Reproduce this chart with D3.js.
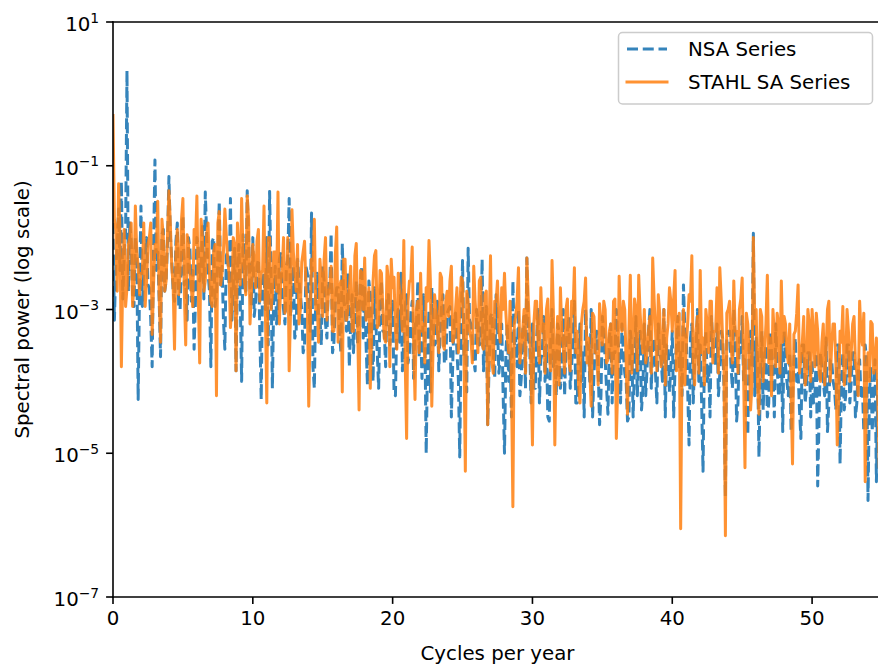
<!DOCTYPE html>
<html>
<head>
<meta charset="utf-8">
<script src="https://cdn.jsdelivr.net/npm/d3@7"></script>
<style>
  body { margin: 0; background: #fff; }
  svg { display: block; }
  text { font-family: "DejaVu Sans", sans-serif; fill: #000; }
</style>
</head>
<body>
<svg id="chart" width="878" height="669"></svg>
<script>
// Periodogram bins: evenly spaced frequencies in cycles per year
const freqStep = 0.1;

// Spectral power of the not seasonally adjusted series, one value per bin
const nsaPower = [
  // 0.0 – 1.9
  1.6e-2, 7.1e-4, 4e-3, 7.1e-3, 2.5e-2, 3.5e-3, 6e-2, 1.4e-3, 6.3e-3, 1.1e-2, 2.1, 1.8e-3, 1.6e-2, 8.9e-3, 1.6e-3, 1.1e-3, 1e-2, 5.6e-3, 5.6e-5, 2.2e-3,
  // 2.0 – 3.9
  2.75e-2, 1.1e-3, 3.2e-3, 5.6e-3, 1e-2, 2.2e-3, 2e-3, 7.1e-4, 1.6e-4, 7.1e-3, 1.2e-1, 3.5e-3, 6.3e-3, 1.4e-3, 2.2e-4, 1.1e-2, 1.3e-2, 1.8e-3, 2.5e-3, 8.9e-3,
  // 4.0 – 5.9
  7.1e-2, 1.1e-2, 5e-3, 1.8e-3, 1.3e-3, 8.9e-3, 1.6e-2, 1.1e-3, 1e-3, 5.6e-3, 2e-2, 2.2e-3, 2.5e-3, 7.1e-4, 1e-2, 7.1e-3, 1.3e-3, 3.5e-3, 2.8e-4, 1.4e-3,
  // 6.0 – 7.9
  1e-2, 7.1e-3, 2.5e-3, 3.5e-3, 1.6e-2, 1.4e-3, 4.3e-2, 1.1e-2, 3.2e-3, 1.8e-3, 1.6e-4, 8.9e-3, 1e-2, 1.1e-3, 1.6e-3, 5.6e-3, 3.2e-2, 2.2e-3, 4e-3, 7.1e-4,
  // 8.0 – 9.9
  2.8e-4, 5.6e-3, 6.3e-3, 2.2e-3, 3.5e-2, 7.1e-4, 2e-3, 7.1e-3, 1.4e-4, 3.5e-3, 8e-3, 1.4e-3, 1e-4, 1.1e-2, 5e-3, 1.8e-3, 4.5e-2, 8.9e-3, 2e-3, 1.1e-3,
  // 10.0 – 11.9
  1e-2, 8e-4, 1.3e-3, 4e-3, 5e-3, 5e-4, 5.6e-5, 2.5e-3, 3.2e-3, 1e-3, 1e-2, 3.2e-4, 4.4e-2, 3.2e-3, 8e-5, 1.6e-3, 4e-3, 6.3e-4, 1.3e-3, 5e-3,
  // 12.0 – 13.9
  6.3e-3, 1.6e-3, 1e-3, 6.3e-4, 4e-3, 5e-3, 3.5e-2, 8e-4, 1.6e-3, 4e-3, 4e-4, 5e-4, 5e-3, 2.5e-3, 1.6e-3, 1e-3, 2.5e-4, 3.2e-4, 4e-3, 3.2e-3,
  // 14.0 – 15.9
  1.3e-3, 5e-4, 2.2e-2, 1.6e-4, 8e-5, 1.6e-3, 3.2e-3, 8e-4, 8e-4, 3.2e-4, 4e-3, 2.5e-3, 6.3e-4, 4e-4, 2.5e-3, 2e-3, 1.15e-2, 2.5e-4, 3.5e-4, 1.3e-3,
  // 16.0 – 17.9
  2e-3, 2e-3, 5e-4, 2.5e-4, 8.3e-3, 1.3e-3, 1e-3, 5e-4, 3.2e-3, 1.6e-4, 6.3e-4, 1.6e-3, 2.5e-4, 8e-4, 2.5e-3, 3.2e-4, 1e-3, 2.5e-3, 4e-3, 4e-4,
  // 18.0 – 19.9
  2e-3, 3.2e-4, 8.9e-5, 2.5e-3, 1.6e-3, 4e-4, 1e-4, 2e-3, 6.3e-4, 2.5e-4, 8e-5, 1.3e-3, 2.5e-3, 5e-4, 5e-4, 1.6e-4, 1.6e-3, 1.6e-3, 3.2e-4, 8e-4,
  // 20.0 – 21.9
  1.3e-3, 7.1e-5, 6.3e-5, 7.1e-4, 1e-3, 3.5e-4, 3.2e-3, 1.4e-4, 4e-4, 1.1e-3, 1.6e-3, 1.8e-4, 2.5e-4, 8.9e-4, 1.3e-3, 1.1e-4, 6.3e-4, 5.6e-4, 2.5e-3, 2.2e-4,
  // 22.0 – 23.9
  5e-4, 1.1e-4, 1.6e-3, 5.6e-4, 1e-5, 2.2e-4, 1e-3, 7.1e-5, 2e-3, 7.1e-4, 3.2e-4, 3.5e-4, 1.3e-3, 1.4e-4, 5e-4, 1.1e-3, 1.6e-3, 1.8e-4, 1.8e-4, 8.9e-4,
  // 24.0 – 25.9
  1e-3, 1.1e-3, 3.2e-5, 1.8e-4, 8e-4, 8.9e-4, 2.5e-4, 1.1e-4, 8.9e-6, 5.6e-4, 4.8e-3, 2.2e-4, 4e-4, 7.1e-5, 7.1e-3, 7.1e-4, 6.3e-4, 3.5e-4, 2e-4, 1.4e-4,
  // 26.0 – 27.9
  1e-3, 7.1e-4, 3.2e-4, 3.5e-4, 5e-3, 1.4e-4, 5e-4, 1.1e-3, 2.5e-5, 1.8e-4, 8e-4, 8.9e-4, 2.5e-4, 1.1e-4, 1.6e-3, 5.6e-4, 1.3e-4, 2.2e-4, 6.3e-4, 7.1e-5,
  // 28.0 – 29.9
  1e-5, 2.5e-4, 6.3e-4, 1e-4, 2.5e-4, 3.2e-5, 2.5e-3, 3.2e-4, 4e-4, 1.6e-4, 1e-3, 6.3e-5, 1.1e-4, 5e-4, 8e-4, 8e-5, 5.2e-3, 4e-4, 3.2e-4, 5e-5,
  // 30.0 – 31.9
  6.3e-4, 8e-5, 8e-5, 4e-4, 1e-3, 5e-5, 2e-4, 2.5e-4, 8e-4, 1e-4, 3.2e-4, 3.2e-5, 2.8e-5, 3.2e-4, 1e-3, 1.6e-4, 2.5e-4, 6.3e-5, 6.3e-4, 5e-4,
  // 32.0 – 33.9
  8e-5, 1.6e-4, 1e-3, 6.3e-5, 3.2e-4, 5e-4, 8e-4, 8e-5, 1.6e-4, 4e-4, 1.3e-3, 5e-5, 5e-5, 2.5e-4, 6.3e-4, 1e-4, 2.5e-4, 3.2e-5, 1e-3, 3.2e-4,
  // 34.0 – 35.9
  3.2e-4, 1e-4, 1e-3, 3.2e-5, 1.3e-4, 3.2e-4, 5e-4, 1.6e-4, 2.5e-5, 6.3e-5, 8e-4, 5e-4, 2e-4, 8e-5, 3.5e-5, 4e-4, 6.3e-4, 5e-5, 2.5e-4, 2.5e-4,
  // 36.0 – 37.9
  1e-3, 4e-4, 2.5e-4, 5e-5, 6.3e-4, 2.5e-4, 1.3e-4, 1e-4, 2.8e-5, 3.2e-5, 5e-4, 3.2e-4, 3.2e-5, 1.6e-4, 8e-4, 6.3e-5, 3.2e-4, 5e-4, 4e-5, 8e-5,
  // 38.0 – 39.9
  6.3e-4, 6.3e-5, 1.6e-4, 5e-4, 1e-3, 8e-5, 3.2e-4, 4e-4, 1.3e-4, 5e-5, 6.3e-4, 2.5e-4, 2e-4, 1e-4, 1e-3, 3.2e-5, 3.2e-4, 3.2e-4, 7.1e-5, 1.6e-4,
  // 40.0 – 41.9
  5e-4, 3.2e-5, 1.6e-4, 3.2e-4, 8e-4, 1.6e-4, 2.5e-4, 6.3e-5, 2.2e-3, 5e-4, 4e-4, 8e-5, 1.3e-5, 4e-4, 6.3e-4, 5e-5, 2e-4, 2.5e-4, 1e-3, 1e-4,
  // 42.0 – 43.9
  3.2e-4, 5e-5, 5.6e-6, 2.5e-4, 5e-4, 1e-4, 1.6e-4, 3.2e-5, 8e-4, 3.2e-4, 2.5e-4, 1.6e-4, 6.3e-4, 6.3e-5, 1.3e-4, 5e-4, 4e-4, 8e-5, 2.5e-6, 4e-4,
  // 44.0 – 45.9
  5e-4, 5e-4, 1.6e-4, 8e-5, 1e-3, 4e-4, 2.8e-5, 5e-5, 4e-4, 2.5e-4, 8e-4, 1e-4, 2e-4, 3.2e-5, 1.8e-5, 3.2e-4, 5e-4, 1.6e-4, 1.15e-2, 6.3e-5,
  // 46.0 – 47.9
  4e-4, 2e-4, 8.9e-6, 1e-4, 5e-4, 4e-5, 1.6e-4, 3.2e-4, 3.2e-5, 5e-5, 5e-4, 2.5e-4, 1.3e-4, 3.2e-5, 6.3e-4, 1.6e-4, 6.3e-5, 6.3e-5, 3.2e-4, 2e-5,
  // 48.0 – 49.9
  5e-4, 1.6e-4, 1e-4, 6.3e-5, 2.5e-4, 2e-5, 5e-5, 2e-4, 4e-4, 1e-4, 1.3e-4, 4e-5, 1.6e-5, 3.2e-4, 3.2e-4, 5e-5, 8e-5, 2.5e-4, 2.5e-4, 3.2e-5,
  // 50.0 – 51.9
  2e-4, 5e-5, 6.3e-5, 2.5e-4, 3.5e-6, 3.2e-5, 2.5e-4, 1.6e-4, 1e-4, 6.3e-5, 4e-4, 2e-5, 5e-5, 2e-4, 2e-4, 1e-4, 8e-5, 4e-5, 3.2e-4, 3.2e-4,
  // 52.0 – 53.9
  7.1e-6, 1e-4, 2.5e-4, 4e-5, 6.3e-5, 3.2e-4, 3.2e-4, 5e-5, 1e-4, 2.5e-4, 2.5e-4, 3.2e-5, 5e-5, 1.6e-4, 2e-4, 6.3e-5, 8e-5, 2e-5, 3.2e-4, 2e-4,
  // 54.0 – 55.0
  2.2e-6, 6.3e-5, 1.6e-4, 2e-5, 6.3e-5, 2e-4, 4e-6, 1e-4, 1.3e-4, 4e-5, 5e-5
];

// Spectral power of the STAHL seasonally adjusted series
const stahlPower = [
  // 0.0 – 1.9
  5e-1, 1.8e-2, 1.3e-2, 1.8e-3, 5.6e-2, 1.1e-2, 1.6e-4, 3.2e-3, 1.3e-2, 1.1e-3, 2e-3, 8e-3, 1e-2, 1.6e-2, 1.1e-3, 2.2e-3, 2.75e-2, 6.3e-3, 4e-3, 1.6e-3,
  // 2.0 – 3.9
  3.2e-3, 3.2e-3, 1.6e-2, 1.1e-3, 2.5e-3, 8e-3, 1e-2, 1.6e-2, 4.5e-4, 2.2e-3, 8e-3, 6.3e-3, 3.2e-2, 1.6e-3, 3.5e-4, 1.8e-2, 1e-2, 1.8e-3, 2.5e-3, 1.1e-2,
  // 4.0 – 5.9
  4.5e-2, 1.6e-2, 4e-3, 2.2e-3, 2.8e-4, 6.3e-3, 1.3e-2, 1.6e-3, 3.2e-3, 1.8e-2, 3.5e-2, 1.8e-3, 3.2e-4, 1.1e-2, 8e-3, 3.2e-3, 2e-3, 1.1e-3, 1.3e-2, 8e-3,
  // 6.0 – 7.9
  3.8e-2, 1.6e-3, 1.8e-4, 1.8e-2, 1e-2, 1.8e-3, 2.5e-3, 1.1e-2, 1.6e-2, 3.2e-3, 1.3e-3, 1.1e-3, 6.3e-3, 8e-3, 6.3e-5, 1.6e-2, 2.3e-2, 2.2e-3, 3.2e-3, 6.3e-3,
  // 8.0 – 9.9
  2.5e-2, 1.1e-2, 5e-3, 3.2e-3, 5.6e-4, 1.1e-3, 1e-2, 8e-3, 1.4e-4, 1.6e-2, 6.3e-3, 2.2e-3, 3.5e-2, 6.3e-3, 2.5e-3, 1.6e-3, 3.8e-2, 1.8e-2, 6.3e-4, 1.8e-3,
  // 10.0 – 11.9
  8e-3, 4.5e-3, 2e-3, 8.9e-3, 1.3e-2, 1.3e-3, 3.2e-3, 3.5e-3, 2.75e-2, 8.9e-4, 5e-5, 1e-2, 1e-2, 1e-3, 1.6e-3, 6.3e-3, 6.3e-3, 1.8e-3, 4.3e-2, 6.3e-4,
  // 12.0 – 13.9
  2.5e-3, 3.5e-3, 1e-2, 8.9e-4, 1.3e-3, 1e-2, 1.4e-4, 1e-3, 2.45e-2, 6.3e-3, 3.2e-3, 1.8e-3, 8e-3, 6.3e-4, 1e-3, 4.5e-3, 6.3e-3, 8.9e-3, 2e-3, 1.3e-3,
  // 14.0 – 15.9
  4.5e-5, 5.6e-4, 5e-3, 3.5e-3, 1.8e-2, 1e-3, 1.3e-3, 3.5e-4, 5e-3, 2.5e-3, 8e-4, 5e-3, 1e-2, 7.1e-4, 1.6e-3, 2e-3, 4e-3, 5e-4, 5e-4, 5.6e-3,
  // 16.0 – 17.9
  1.4e-2, 3.5e-4, 2e-3, 2.5e-3, 7.1e-5, 5e-3, 5e-3, 7.1e-4, 1e-3, 2e-3, 4e-3, 5e-4, 5e-4, 5.6e-3, 8.3e-3, 5.6e-4, 4e-5, 3.5e-3, 3.2e-3, 1e-3,
  // 18.0 – 19.9
  5.2e-3, 7.1e-4, 1e-3, 2e-3, 8e-5, 5e-4, 2.5e-3, 5.6e-3, 6.6e-3, 5.6e-4, 6.3e-4, 3.5e-3, 3.2e-3, 1e-3, 4e-4, 3.5e-4, 4e-3, 2.5e-3, 1.6e-4, 5e-3,
  // 20.0 – 21.9
  2e-3, 2.8e-3, 5e-4, 2.8e-4, 3.2e-3, 1.8e-3, 1e-3, 5e-4, 9.1e-3, 1.8e-4, 1.6e-5, 1.3e-3, 2.5e-3, 2.5e-3, 7.4e-3, 3.5e-4, 5.6e-5, 1e-3, 1.3e-3, 2.5e-4,
  // 22.0 – 23.9
  3.2e-3, 5e-4, 6.3e-4, 1.8e-4, 2e-3, 1.3e-3, 9.1e-3, 2.5e-3, 4.5e-5, 3.5e-4, 1.6e-3, 1e-3, 5e-4, 2.5e-4, 3.2e-3, 2.8e-3, 3.2e-4, 2.8e-4, 1.3e-3, 1.8e-3,
  // 24.0 – 25.9
  8e-4, 2.5e-3, 4e-3, 3.5e-4, 4e-4, 1e-3, 2e-3, 2.5e-4, 1e-3, 2.8e-3, 2.5e-3, 2.8e-4, 5.6e-6, 1.8e-3, 1.3e-3, 5e-4, 4e-4, 1.8e-4, 4e-3, 1.3e-3,
  // 26.0 – 27.9
  6.3e-4, 2.5e-4, 2.5e-3, 2.8e-3, 3.2e-4, 2.8e-4, 1.6e-3, 1.8e-3, 2.5e-5, 5e-4, 5.6e-3, 1.8e-4, 1.3e-4, 1.3e-3, 1.3e-3, 2.5e-3, 5e-4, 3.5e-4, 2e-3, 1e-3,
  // 28.0 – 29.9
  3.2e-3, 8.9e-4, 4e-4, 2.5e-4, 1.3e-3, 8.9e-5, 1.8e-6, 6.3e-4, 8e-4, 1.3e-3, 3.8e-3, 1.8e-4, 3.2e-4, 5e-4, 1e-3, 1.3e-4, 5.2e-3, 1.4e-3, 5e-4, 1.4e-4,
  // 30.0 – 31.9
  1.3e-5, 6.3e-4, 1.3e-3, 1.3e-3, 3.2e-4, 1.8e-4, 2e-3, 5e-4, 6.3e-4, 1.3e-4, 1e-3, 1.4e-3, 2.5e-4, 1.4e-4, 4.8e-3, 8.9e-4, 1.3e-5, 2.5e-4, 8e-4, 8.9e-5,
  // 32.0 – 33.9
  2e-3, 5e-4, 3.2e-4, 1.3e-4, 1e-3, 1.4e-3, 2e-4, 1.4e-4, 1.3e-3, 8.9e-4, 3.8e-3, 2.5e-4, 5e-4, 8.9e-5, 5e-5, 6.3e-4, 1e-3, 1.3e-3, 2.75e-3, 1.8e-4,
  // 34.0 – 35.9
  4e-4, 1.4e-4, 4.5e-5, 8.9e-4, 8e-4, 2.5e-4, 2.5e-4, 8.9e-5, 1.2e-3, 6.3e-4, 3.2e-4, 1.3e-3, 1e-3, 1.8e-4, 2e-4, 5e-4, 6.3e-4, 1.3e-4, 1.3e-3, 1.4e-3,
  // 36.0 – 37.9
  1.6e-5, 8.9e-5, 2.9e-3, 6.3e-4, 5e-4, 1.3e-3, 1e-3, 1.8e-4, 3.5e-5, 5e-4, 3e-3, 1.3e-4, 3.2e-4, 1.4e-3, 1e-3, 1.4e-4, 3e-3, 8.9e-4, 4e-4, 2.5e-4,
  // 38.0 – 39.9
  1e-3, 1.8e-4, 2.5e-4, 5e-4, 8e-4, 1.3e-4, 5.2e-3, 1.4e-3, 5e-4, 1.4e-4, 1.6e-3, 8.9e-4, 1.6e-4, 2.5e-4, 1e-3, 8.9e-5, 4e-4, 6.3e-4, 2e-3, 1.3e-3,
  // 40.0 – 41.9
  5e-4, 1.4e-3, 3.5e-3, 1.4e-4, 6.3e-4, 8.9e-4, 8.9e-7, 2.5e-4, 1e-3, 8.9e-5, 3.2e-4, 6.3e-4, 1.6e-3, 1.3e-3, 5.6e-3, 1.8e-4, 8.9e-5, 5e-4, 8e-4, 1.3e-4,
  // 42.0 – 43.9
  3.5e-3, 2.5e-4, 4e-4, 8.9e-5, 1e-3, 6.3e-4, 2.5e-4, 1.3e-3, 1.3e-3, 1.8e-4, 5e-4, 5e-4, 2e-3, 1.3e-4, 3.8e-3, 1.4e-3, 4e-4, 1.4e-4, 7.1e-7, 8.9e-4,
  // 44.0 – 45.9
  1e-3, 1.3e-3, 3.2e-4, 1.8e-4, 2.5e-3, 5e-4, 5e-4, 1.3e-4, 1e-3, 1.4e-3, 2.75e-3, 1.4e-4, 6.3e-6, 8.9e-4, 6.3e-4, 2.5e-4, 4e-5, 8.9e-5, 1e-2, 6.3e-4,
  // 46.0 – 47.9
  1e-3, 8.9e-5, 3.5e-5, 1e-3, 8e-4, 1e-4, 2.5e-4, 6.3e-4, 3e-3, 1.8e-4, 4e-4, 6.3e-5, 1e-3, 4.5e-4, 1.6e-4, 8.9e-4, 6.3e-4, 1.3e-4, 2.5e-3, 3.5e-4,
  // 48.0 – 49.9
  8e-4, 6.3e-4, 2.5e-4, 1.8e-4, 6.3e-4, 6.3e-5, 7.1e-6, 4.5e-4, 5e-4, 8.9e-4, 2.2e-3, 1.3e-4, 2e-4, 3.5e-4, 8e-4, 8.9e-5, 1.3e-4, 1e-3, 6.3e-4, 1e-4,
  // 50.0 – 51.9
  1e-3, 4.5e-4, 1.6e-4, 8.9e-4, 5e-4, 1.3e-4, 1e-4, 3.5e-4, 6.3e-4, 8.9e-5, 2.5e-4, 1e-3, 1.3e-3, 1e-4, 3.2e-4, 6.3e-4, 6.3e-4, 1.8e-4, 1.3e-5, 6.3e-5,
  // 52.0 – 53.9
  5e-4, 3.5e-4, 1.1e-3, 8.9e-5, 1.6e-4, 1e-3, 5e-4, 1e-4, 2.5e-4, 6.3e-4, 8e-4, 1.8e-4, 1.3e-4, 6.3e-5, 1.3e-3, 4.5e-4, 3.2e-4, 8.9e-4, 4e-6, 1.3e-4,
  // 54.0 – 55.0
  2.5e-4, 1e-4, 6.8e-4, 6.3e-4, 1.3e-4, 1.8e-4, 4e-4, 6.3e-5, 6.3e-6, 4.5e-4, 7.6e-4
];

const seriesNames = ["NSA Series", "STAHL SA Series"];
const xTicks = [0, 10, 20, 30, 40, 50];
const yTickExponents = [1, -1, -3, -5, -7];

const freqs = d3.range(stahlPower.length).map(i => Math.round(i * freqStep * 10) / 10);

// ---- layout ----
const plot = { left: 113, top: 22, right: 882, bottom: 597 };
const fontSize = 19.8;
const tickLen = 6.9;
const tickPad = 6.9;
const lineW = 3;

const svg = d3.select("#chart");
svg.append("rect").attr("width", 878).attr("height", 669).attr("fill", "#fff");

const x = d3.scaleLinear().domain([0, 55]).range([plot.left, plot.right]);
const y = d3.scaleLog().domain([1e-7, 10]).range([plot.bottom, plot.top]);

svg.append("defs").append("clipPath").attr("id", "plotClip")
  .append("rect")
  .attr("x", plot.left).attr("y", plot.top)
  .attr("width", plot.right - plot.left).attr("height", plot.bottom - plot.top);

const line = d3.line()
  .x((d, i) => x(freqs[i]))
  .y(d => y(d));

const lines = svg.append("g").attr("clip-path", "url(#plotClip)");

lines.append("path")
  .datum(nsaPower)
  .attr("d", line)
  .attr("fill", "none")
  .attr("stroke", "#1f77b4")
  .attr("stroke-opacity", 0.9)
  .attr("stroke-width", lineW)
  .attr("stroke-dasharray", "11 4.75")
  .attr("stroke-linejoin", "round")
  .attr("stroke-linecap", "butt");

lines.append("path")
  .datum(stahlPower)
  .attr("d", line)
  .attr("fill", "none")
  .attr("stroke", "#ff7f0e")
  .attr("stroke-opacity", 0.85)
  .attr("stroke-width", lineW)
  .attr("stroke-linejoin", "round")
  .attr("stroke-linecap", "square");

// ---- axes ----
const axisColor = "#000";
const spineW = 1.6;

// spines (the right spine lies beyond the visible canvas)
[[plot.left, plot.top, plot.left, plot.bottom],
 [plot.left, plot.bottom, plot.right, plot.bottom],
 [plot.left, plot.top, plot.right, plot.top],
 [plot.right, plot.top, plot.right, plot.bottom]].forEach(([x1, y1, x2, y2]) => {
  svg.append("line")
    .attr("x1", x1).attr("y1", y1).attr("x2", x2).attr("y2", y2)
    .attr("stroke", axisColor).attr("stroke-width", spineW).attr("stroke-linecap", "square");
});

// x ticks
const xt = svg.append("g");
xTicks.forEach(t => {
  xt.append("line")
    .attr("x1", x(t)).attr("x2", x(t))
    .attr("y1", plot.bottom).attr("y2", plot.bottom + tickLen)
    .attr("stroke", axisColor).attr("stroke-width", spineW);
  xt.append("text")
    .attr("x", x(t)).attr("y", plot.bottom + tickLen + tickPad + 14.6)
    .attr("text-anchor", "middle")
    .attr("font-size", fontSize)
    .text(t);
});

// y ticks with power-of-ten labels
const yt = svg.append("g");
yTickExponents.forEach(e => {
  const v = Math.pow(10, e);
  yt.append("line")
    .attr("x1", plot.left - tickLen).attr("x2", plot.left)
    .attr("y1", y(v)).attr("y2", y(v))
    .attr("stroke", axisColor).attr("stroke-width", spineW);
  const label = yt.append("text")
    .attr("x", plot.left - tickLen - tickPad)
    .attr("y", y(v) + 9)
    .attr("text-anchor", "end")
    .attr("font-size", fontSize);
  label.append("tspan").text("10");
  label.append("tspan")
    .attr("dy", -8.5)
    .attr("font-size", fontSize * 0.7)
    .text(e < 0 ? "\u2212" + Math.abs(e) : String(e));
});

// axis titles
svg.append("text")
  .attr("x", (plot.left + plot.right) / 2)
  .attr("y", 660)
  .attr("text-anchor", "middle")
  .attr("font-size", fontSize)
  .text("Cycles per year");

svg.append("text")
  .attr("transform", `translate(29, ${(plot.top + plot.bottom) / 2}) rotate(-90)`)
  .attr("text-anchor", "middle")
  .attr("font-size", fontSize)
  .text("Spectral power (log scale)");

// ---- legend ----
const legend = svg.append("g");
legend.append("rect")
  .attr("x", 618.5).attr("y", 32.5)
  .attr("width", 254).attr("height", 71.5)
  .attr("rx", 4).attr("ry", 4)
  .attr("fill", "#fff").attr("fill-opacity", 0.8)
  .attr("stroke", "#cccccc").attr("stroke-width", 1.5);

const legendRows = [
  { name: seriesNames[0], color: "#1f77b4", dash: "11 4.75", opacity: 0.9, cy: 49 },
  { name: seriesNames[1], color: "#ff7f0e", dash: null, opacity: 0.85, cy: 82 }
];
legendRows.forEach(r => {
  legend.append("line")
    .attr("x1", 627).attr("x2", 667)
    .attr("y1", r.cy).attr("y2", r.cy)
    .attr("stroke", r.color)
    .attr("stroke-opacity", r.opacity)
    .attr("stroke-width", lineW)
    .attr("stroke-dasharray", r.dash)
    .attr("stroke-linecap", r.dash ? "butt" : "square");
  legend.append("text")
    .attr("x", 688).attr("y", r.cy + 7)
    .attr("font-size", fontSize)
    .text(r.name);
});
</script>
</body>
</html>
